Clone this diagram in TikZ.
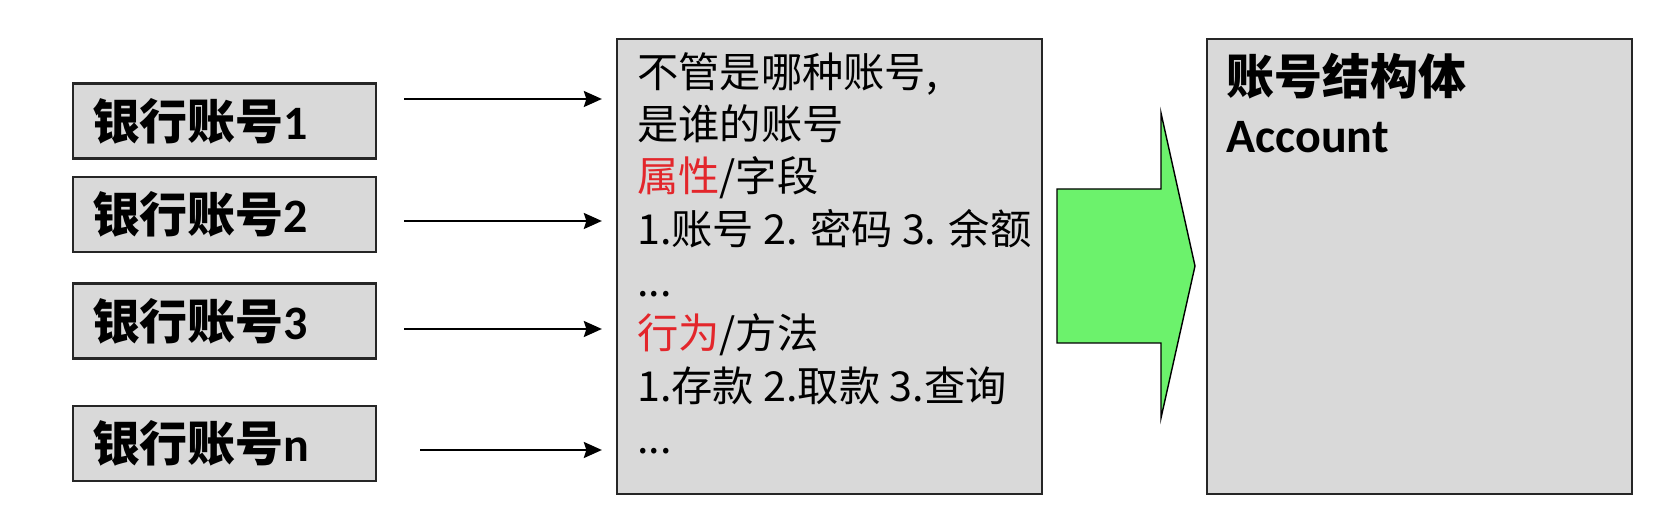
\documentclass[tikz,border=0pt]{standalone}
\usepackage{fontspec}
\setmainfont{Carlito}
\newfontfamily\cjk{Noto Sans CJK SC}
\usetikzlibrary{arrows.meta,positioning,calc}
\definecolor{boxgray}{HTML}{D9D9D9}
\definecolor{edge}{HTML}{262626}
\definecolor{arrowgreen}{HTML}{6CF26C}
\definecolor{keyred}{HTML}{E3262B}

\begin{document}
\begin{tikzpicture}[
    acct/.style={draw=edge, line width=1.3pt, fill=boxgray, minimum height=1.5cm,
                 text width=5.3cm, inner xsep=0.38cm, align=left,
                 font=\bfseries\fontsize{27.3}{32}\selectfont},
    panel/.style={draw=edge, line width=1.3pt, fill=boxgray,
                  minimum width=8.5cm, minimum height=9.1cm},
    link/.style={-{Stealth[length=0.36cm, width=0.32cm, inset=0.05cm]}, line width=1.1pt}
]
    \useasboundingbox (0,0) rectangle (33.48,10.28);

    % the single accounts
    \node[acct] (acc1) at (4.49,7.86) {{\cjk 银行账号}1};
    \node[acct] (acc2) at (4.49,5.99) {{\cjk 银行账号}2};
    \node[acct] (acc3) at (4.49,3.86) {{\cjk 银行账号}3};
    \node[acct] (accn) at (4.49,1.41) {{\cjk 银行账号}n};

    % what they have in common
    \node[panel] (common) at (16.59,4.95) {};
    \node[below right=0.28cm and 0.42cm of common.north west, anchor=north west,
          inner sep=0, align=left, font=\fontsize{23.5}{29.8}\selectfont\cjk] (traits)
        {不管是哪种账号,\\
         是谁的账号\\
         {\color{keyred}属性}/字段\\
         1.账号 2. 密码 3. 余额\\
         ...\\
         {\color{keyred}行为}/方法\\
         1.存款 2.取款 3.查询\\
         ...};

    % the struct
    \node[panel] (account) at (28.39,4.95) {};
    \node[below right=0.3cm and 0.4cm of account.north west, anchor=north west,
          inner sep=0, align=left, font=\bfseries\fontsize{27.3}{33}\selectfont] (title)
        {{\cjk 账号结构体}\\Account};

    \foreach \src/\y/\gap in {acc1/8.30/0.54cm, acc2/5.86/0.54cm, acc3/3.70/0.54cm, accn/1.28/0.86cm} {
        \coordinate (in-\src) at (0,\y);
        \draw[link, shorten <=\gap, shorten >=0.28cm] (\src.east |- in-\src) -- (common.west |- in-\src);
    }

    \draw[draw=black, line width=0.8pt, fill=arrowgreen]
        (21.14,6.50) -- (23.22,6.50) -- (23.22,8.02) -- (23.90,4.96)
        -- (23.22,1.92) -- (23.22,3.42) -- (21.14,3.42) -- cycle;
\end{tikzpicture}
\end{document}
